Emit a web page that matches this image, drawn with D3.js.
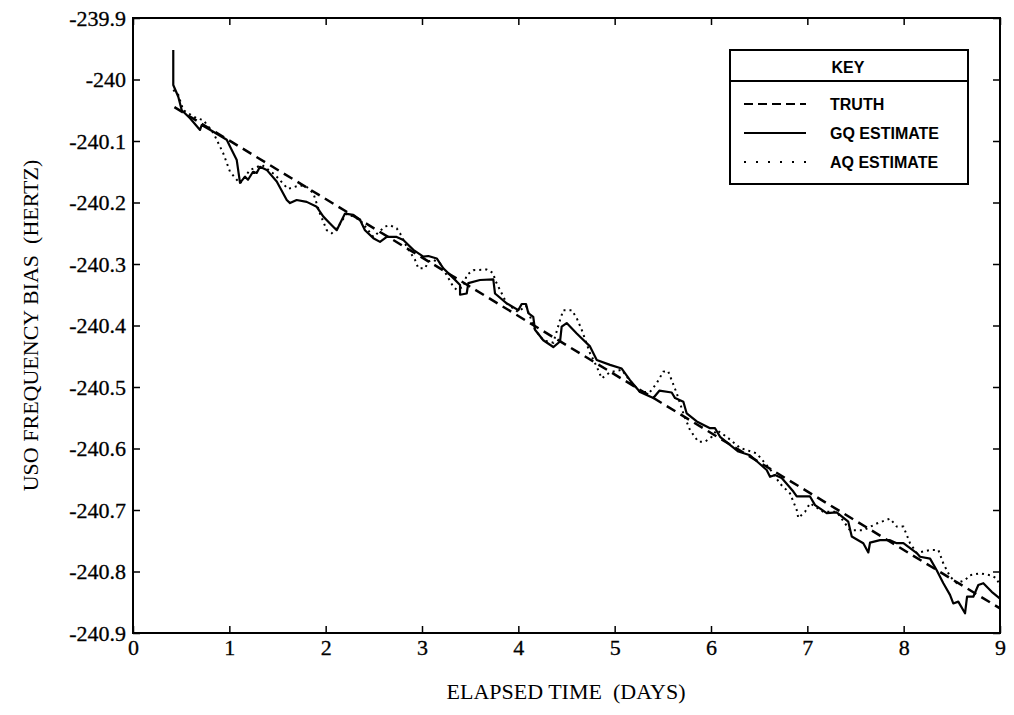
<!DOCTYPE html>
<html>
<head>
<meta charset="utf-8">
<script src="https://cdn.jsdelivr.net/npm/d3@7"></script>
<style>
  body { margin: 0; background: #fff; }
  svg text { font-family: 'Liberation Serif', 'Times New Roman', serif; fill: #000; }
  .legend text { font-family: 'Liberation Sans', Arial, sans-serif; }
</style>
</head>
<body>
<script>
/* global d3 */

// Constants
const width = 1014;
const height = 715;
const plot = { left: 133, right: 1000, top: 18, bottom: 633 };

const xAxisLabel = 'ELAPSED TIME  (DAYS)';
const yAxisLabel = 'USO FREQUENCY BIAS  (HERTZ)';
const keyText = 'KEY';

// Ticks
const xTicks = [0, 1, 2, 3, 4, 5, 6, 7, 8, 9];
const yTicks = [-239.9, -240, -240.1, -240.2, -240.3, -240.4, -240.5, -240.6, -240.7, -240.8, -240.9];
const yTickLabels = ['-239.9', '-240', '-240.1', '-240.2', '-240.3', '-240.4', '-240.5', '-240.6', '-240.7', '-240.8', '-240.9'];

// Truth (straight line)
const truthTime = [0.43, 9.0];
const truthBias = [-240.045, -240.860];

// GQ estimate (solid)
const gqTime = [0.418, 0.418, 0.47, 0.506, 0.592, 0.696, 0.713, 0.834, 0.973, 1.007,
  1.077, 1.111, 1.163, 1.194, 1.246, 1.284, 1.318, 1.388, 1.492, 1.596,
  1.63, 1.699, 1.803, 1.907, 1.976, 2.045, 2.115, 2.149, 2.201, 2.287,
  2.356, 2.408, 2.495, 2.564, 2.634, 2.737, 2.806, 2.91, 3.014, 3.066,
  3.153, 3.221, 3.325, 3.395, 3.395, 3.464, 3.481, 3.602, 3.74, 3.758,
  3.879, 4.0, 4.035, 4.08, 4.104, 4.155, 4.173, 4.259, 4.363, 4.433,
  4.45, 4.502, 4.606, 4.744, 4.814, 4.952, 5.073, 5.159, 5.263, 5.401,
  5.464, 5.592, 5.627, 5.713, 5.748, 5.852, 5.99, 6.042, 6.094, 6.284,
  6.405, 6.578, 6.613, 6.665, 6.734, 6.855, 6.89, 7.028, 7.08, 7.201,
  7.305, 7.425, 7.461, 7.581, 7.633, 7.651, 7.754, 7.858, 7.928, 7.997,
  8.136, 8.17, 8.274, 8.343, 8.412, 8.481, 8.515, 8.567, 8.637, 8.658,
  8.723, 8.775, 8.827, 8.914, 9.0];
const gqBias = [-239.952, -240.009, -240.028, -240.05, -240.063, -240.082, -240.074, -240.085, -240.098, -240.109,
  -240.131, -240.168, -240.158, -240.163, -240.15, -240.152, -240.142, -240.147, -240.166, -240.196,
  -240.201, -240.196, -240.199, -240.207, -240.223, -240.234, -240.245, -240.234, -240.218, -240.22,
  -240.228, -240.245, -240.258, -240.264, -240.256, -240.256, -240.261, -240.277, -240.288, -240.287,
  -240.291, -240.307, -240.323, -240.334, -240.35, -240.348, -240.331, -240.326, -240.325, -240.348,
  -240.364, -240.375, -240.365, -240.365, -240.38, -240.386, -240.407, -240.424, -240.435, -240.426,
  -240.402, -240.396, -240.413, -240.434, -240.456, -240.464, -240.47, -240.489, -240.508, -240.518,
  -240.506, -240.509, -240.518, -240.524, -240.543, -240.556, -240.567, -240.567, -240.581, -240.605,
  -240.611, -240.635, -240.646, -240.643, -240.648, -240.67, -240.678, -240.678, -240.692, -240.705,
  -240.704, -240.719, -240.743, -240.754, -240.769, -240.753, -240.749, -240.749, -240.754, -240.754,
  -240.77, -240.776, -240.779, -240.798, -240.819, -240.838, -240.852, -240.849, -240.868, -240.841,
  -240.841, -240.822, -240.819, -240.833, -240.844];

// AQ estimate (dotted)
const aqTime = [0.418, 0.47, 0.522, 0.661, 0.73, 0.834, 0.869, 0.937, 1.007, 1.077,
  1.111, 1.215, 1.339, 1.474, 1.609, 1.734, 1.806, 1.872, 1.941, 2.011,
  2.063, 2.131, 2.218, 2.356, 2.495, 2.616, 2.668, 2.737, 2.772, 2.841,
  2.927, 2.962, 3.031, 3.066, 3.117, 3.187, 3.325, 3.36, 3.429, 3.464,
  3.533, 3.672, 3.74, 3.758, 3.879, 3.997, 4.08, 4.173, 4.259, 4.363,
  4.433, 4.467, 4.554, 4.606, 4.658, 4.744, 4.814, 4.866, 4.952, 5.073,
  5.159, 5.263, 5.367, 5.436, 5.505, 5.554, 5.592, 5.644, 5.713, 5.782,
  5.868, 5.938, 6.008, 6.059, 6.163, 6.301, 6.475, 6.561, 6.634, 6.716,
  6.82, 6.89, 6.906, 6.976, 7.028, 7.166, 7.305, 7.443, 7.581, 7.72,
  7.858, 7.928, 7.997, 8.066, 8.136, 8.274, 8.36, 8.412, 8.481, 8.551,
  8.637, 8.689, 8.793, 8.897, 8.966, 9.0];
const aqBias = [-240.017, -240.025, -240.05, -240.063, -240.066, -240.087, -240.098, -240.12, -240.15, -240.163,
  -240.169, -240.147, -240.139, -240.155, -240.178, -240.172, -240.175, -240.185, -240.218, -240.245,
  -240.25, -240.239, -240.218, -240.228, -240.256, -240.239, -240.237, -240.242, -240.25, -240.272,
  -240.293, -240.307, -240.307, -240.296, -240.293, -240.299, -240.337, -240.342, -240.337, -240.318,
  -240.31, -240.309, -240.315, -240.326, -240.364, -240.378, -240.368, -240.407, -240.424, -240.428,
  -240.391, -240.375, -240.375, -240.388, -240.407, -240.445, -240.467, -240.486, -240.476, -240.472,
  -240.49, -240.508, -240.508, -240.494, -240.475, -240.474, -240.489, -240.51, -240.543, -240.57,
  -240.589, -240.589, -240.581, -240.57, -240.581, -240.599, -240.608, -240.624, -240.638, -240.657,
  -240.673, -240.7, -240.713, -240.703, -240.689, -240.703, -240.703, -240.733, -240.733, -240.722,
  -240.714, -240.727, -240.727, -240.754, -240.77, -240.765, -240.765, -240.787, -240.808, -240.819,
  -240.814, -240.806, -240.803, -240.806, -240.811, -240.825];

const legendNames = ['TRUTH', 'GQ ESTIMATE', 'AQ ESTIMATE'];
const legendDash = ['9,5', null, '2,10'];

// Make main svg
const svg = d3.select('body')
  .append('svg')
  .attr('width', width)
  .attr('height', height);

// Make scales.
const xScale = d3.scaleLinear().domain([0, 9]).range([plot.left, plot.right]);
const yScale = d3.scaleLinear().domain([-240.9, -239.9]).range([plot.bottom, plot.top]);

// Make axes (ticks point inward on every side)
svg.append('g')
  .attr('transform', `translate(0,${plot.bottom})`)
  .call(d3.axisBottom(xScale).tickValues(xTicks).tickSizeInner(-7).tickSizeOuter(0).tickPadding(6));

svg.append('g')
  .attr('transform', `translate(0,${plot.top})`)
  .call(d3.axisTop(xScale).tickValues(xTicks).tickSizeInner(-7).tickSizeOuter(0).tickFormat(''));

svg.append('g')
  .attr('transform', `translate(${plot.left},0)`)
  .call(d3.axisLeft(yScale).tickValues(yTicks).tickSizeInner(-7).tickSizeOuter(0).tickPadding(7)
    .tickFormat((d, i) => yTickLabels[i]));

svg.append('g')
  .attr('transform', `translate(${plot.right},0)`)
  .call(d3.axisRight(yScale).tickValues(yTicks).tickSizeInner(-7).tickSizeOuter(0).tickFormat(''));

svg.selectAll('.domain').remove();
svg.selectAll('.tick line').attr('stroke', '#000').attr('stroke-width', 1.5);
svg.selectAll('.tick text')
  .attr('font-family', 'Liberation Serif, Times New Roman, serif')
  .attr('font-size', '22px')
  .attr('stroke', '#000')
  .attr('stroke-width', 0.3);

// Frame
svg.append('rect')
  .attr('x', plot.left)
  .attr('y', plot.top)
  .attr('width', plot.right - plot.left)
  .attr('height', plot.bottom - plot.top)
  .attr('fill', 'none')
  .attr('stroke', '#000')
  .attr('stroke-width', 2);

// Axis labels
svg.append('text')
  .attr('x', 566)
  .attr('y', 699)
  .attr('text-anchor', 'middle')
  .attr('font-size', '22px')
  .style('white-space', 'pre')
  .text(xAxisLabel);

svg.append('text')
  .attr('transform', `translate(38,${(plot.top + plot.bottom) / 2}) rotate(-90)`)
  .attr('text-anchor', 'middle')
  .attr('font-size', '22px')
  .style('white-space', 'pre')
  .text(yAxisLabel);

// Lines
const line = d3.line()
  .x((d) => xScale(d[0]))
  .y((d) => yScale(d[1]));

const lines = svg.append('g').attr('fill', 'none').attr('stroke', '#000');

lines.append('path')
  .attr('d', line(d3.zip(aqTime, aqBias)))
  .attr('stroke-width', 2)
  .attr('stroke-dasharray', '2,4');

lines.append('path')
  .attr('d', line(d3.zip(truthTime, truthBias)))
  .attr('stroke-width', 2.5)
  .attr('stroke-dasharray', '10,6');

lines.append('path')
  .attr('d', line(d3.zip(gqTime, gqBias)))
  .attr('stroke-width', 2.2)
  .attr('stroke-linejoin', 'round');

// Make legend
const legend = svg.append('g')
  .attr('class', 'legend')
  .attr('transform', 'translate(730,50)');

legend.append('rect')
  .attr('width', 238)
  .attr('height', 134)
  .attr('fill', '#fff')
  .attr('stroke', '#000')
  .attr('stroke-width', 2);

legend.append('line')
  .attr('x1', 0)
  .attr('x2', 238)
  .attr('y1', 31)
  .attr('y2', 31)
  .attr('stroke', '#000')
  .attr('stroke-width', 2);

legend.append('text')
  .attr('x', 118)
  .attr('y', 23)
  .attr('text-anchor', 'middle')
  .attr('font-size', '16px')
  .attr('font-weight', 'bold')
  .text(keyText);

const rows = legend.selectAll('.row')
  .data(legendNames)
  .join('g')
  .attr('class', 'row')
  .attr('transform', (d, i) => `translate(0,${60 + i * 29})`);

rows.append('line')
  .attr('x1', 14)
  .attr('x2', 76)
  .attr('y1', -6)
  .attr('y2', -6)
  .attr('stroke', '#000')
  .attr('stroke-width', 2)
  .attr('stroke-dasharray', (d, i) => legendDash[i]);

rows.append('text')
  .attr('x', 100)
  .attr('y', 0)
  .attr('font-size', '16px')
  .attr('font-weight', 'bold')
  .text((d) => d);
</script>
</body>
</html>
